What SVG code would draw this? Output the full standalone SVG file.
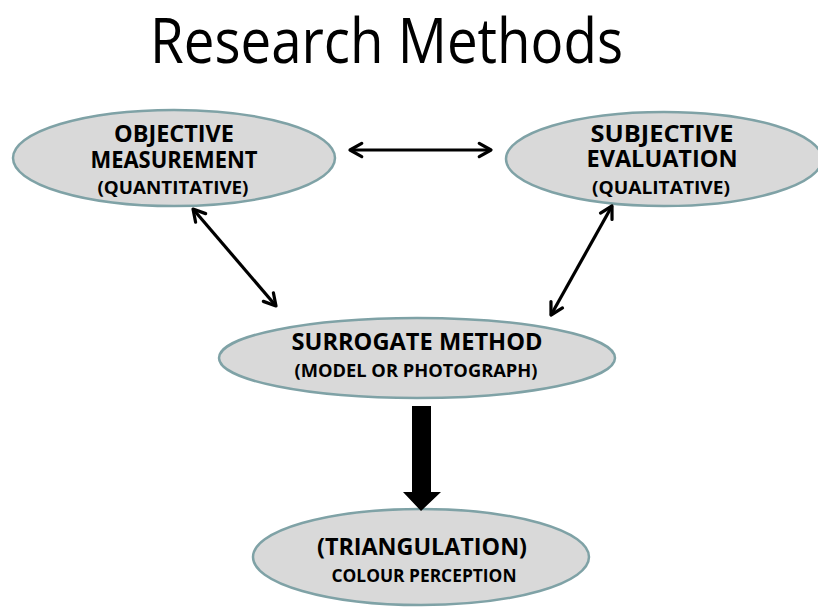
<svg xmlns="http://www.w3.org/2000/svg" width="818" height="610" viewBox="0 0 818 610">
<defs>
<style>
.node ellipse{fill:#d9d9d9;stroke:#7fa2a6;stroke-width:2.5}
.t{font-family:"Open Sans","Liberation Sans",sans-serif;font-weight:bold;fill:#000;text-anchor:middle}
.big{font-size:24px}
.small{font-size:18px}
.title{font-family:"Open Sans","DejaVu Sans",sans-serif;font-size:62px;fill:#000}
.conn{stroke:#000;stroke-width:3.2;fill:none;marker-start:url(#ah);marker-end:url(#ah)}
</style>
<marker id="ah" viewBox="0 0 12 12" refX="10" refY="6" markerWidth="5.5" markerHeight="5.5" orient="auto-start-reverse" markerUnits="strokeWidth">
<path d="M2,1.5 L10,6 L2,10.5" fill="none" stroke="#000" stroke-width="2.2" stroke-linecap="round" stroke-linejoin="round"/>
</marker>
</defs>
<rect width="818" height="610" fill="#fff"/>
<text class="title" x="150" y="63" textLength="473" lengthAdjust="spacingAndGlyphs">Research Methods</text>

<g id="objective" class="node">
<ellipse cx="174" cy="158" rx="161" ry="48"/>
<text class="t big" x="174" y="142" textLength="120" lengthAdjust="spacingAndGlyphs">OBJECTIVE</text>
<text class="t big" x="174" y="168" textLength="167" lengthAdjust="spacingAndGlyphs">MEASUREMENT</text>
<text class="t small" x="173" y="194" textLength="151" lengthAdjust="spacingAndGlyphs">(QUANTITATIVE)</text>
</g>
<g id="subjective" class="node">
<ellipse cx="664" cy="159" rx="158" ry="47"/>
<text class="t big" x="662" y="142" textLength="143" lengthAdjust="spacingAndGlyphs">SUBJECTIVE</text>
<text class="t big" x="662" y="167" textLength="151" lengthAdjust="spacingAndGlyphs">EVALUATION</text>
<text class="t small" x="661" y="194" textLength="138" lengthAdjust="spacingAndGlyphs">(QUALITATIVE)</text>
</g>
<g id="surrogate" class="node">
<ellipse cx="417" cy="358" rx="198" ry="40"/>
<text class="t big" x="417" y="350" textLength="251" lengthAdjust="spacingAndGlyphs">SURROGATE METHOD</text>
<text class="t small" x="416" y="377" textLength="243" lengthAdjust="spacingAndGlyphs">(MODEL OR PHOTOGRAPH)</text>
</g>
<g id="triangulation" class="node">
<ellipse cx="421" cy="557" rx="168" ry="48"/>
<text class="t big" x="422" y="555" textLength="210" lengthAdjust="spacingAndGlyphs">(TRIANGULATION)</text>
<text class="t small" x="424" y="582" textLength="185" lengthAdjust="spacingAndGlyphs">COLOUR PERCEPTION</text>
</g>

<g id="connectors">
<line class="conn" x1="350" y1="150" x2="491" y2="150"/>
<line class="conn" x1="193" y1="209" x2="276" y2="306"/>
<line class="conn" x1="612" y1="206" x2="551" y2="315"/>
<polygon points="412,406 431,406 431,492 441,492 421,511 403,492 412,492" fill="#000"/>
</g>
</svg>
